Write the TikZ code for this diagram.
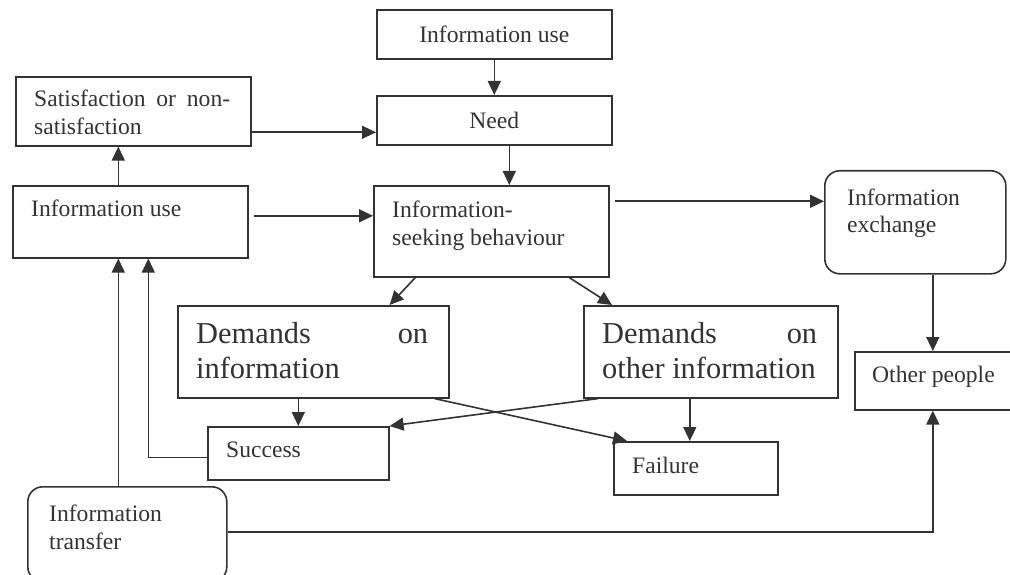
\documentclass[tikz,border=0pt]{standalone}
\usepackage{fontspec}
\setmainfont{Liberation Serif}
\usetikzlibrary{arrows.meta, calc}
\definecolor{ink}{HTML}{333333}

\begin{document}
\begin{tikzpicture}[
    x=1pt, y=-1pt,
    every node/.style={text=ink},
    arrow/.style={-{Triangle[length=14pt,width=13pt]}, line width=1.6pt, draw=ink},
    box/.style={
        rectangle,
        draw=ink,
        line width=1.6pt,
        anchor=north west,
        inner sep=0pt,
        font=\fontsize{23.6}{28}\selectfont
    },
    rbox/.style={box, rounded corners=15pt},
    txt/.style={font=\fontsize{23.6}{28}\selectfont, align=left, inner sep=0pt, anchor=base west},
    bigtxt/.style={txt, font=\fontsize{30.4}{35}\selectfont}
]
\useasboundingbox (0,0) rectangle (1010,575);

% boxes
\node[box, minimum width=235pt, minimum height=49pt] (use1) at (376,9) {Information use};
\node[box, minimum width=235pt, minimum height=49pt] (need) at (376,95) {Need};
\node[box, minimum width=235pt, minimum height=69pt] (satis) at (15,76) {};
\node[box, minimum width=235pt, minimum height=72pt] (use2) at (12,185) {};
\node[box, minimum width=235pt, minimum height=91pt] (isb) at (373,185) {};
\node[rbox, minimum width=181pt, minimum height=103pt] (exch) at (824,170) {};
\node[box, minimum width=271pt, minimum height=92pt] (dinfo) at (177,305) {};
\node[box, minimum width=254pt, minimum height=92pt] (dother) at (583,305) {};
\node[box, minimum width=156pt, minimum height=58pt] (other) at (854,351) {};
\node[box, minimum width=181pt, minimum height=53pt] (success) at (207,426) {};
\node[box, minimum width=164pt, minimum height=53pt] (failure) at (613,441) {};
\node[rbox, minimum width=199pt, minimum height=95pt] (transfer) at (27,486) {};

% texts (base = last line)
\node[txt] (satis-t) at ([xshift=19pt, yshift=-59pt]satis.north west) {\makebox[196pt][l]{Satisfaction\hfill or\hfill non-}\\satisfaction};
\node[txt] (use2-t) at ([xshift=19pt, yshift=-32pt]use2.north west) {Information use};
\node[txt] (isb-t) at ([xshift=19pt, yshift=-60pt]isb.north west) {Information-\\seeking behaviour};
\node[txt] (exch-t) at ([xshift=23pt, yshift=-63pt]exch.north west) {Information\\exchange};
\node[bigtxt] (dinfo-t) at ([xshift=19pt, yshift=-73pt]dinfo.north west) {\makebox[232pt][l]{Demands\hfill on}\\information};
\node[bigtxt] (dother-t) at ([xshift=19pt, yshift=-73pt]dother.north west) {\makebox[215pt][l]{Demands\hfill on}\\other information};
\node[txt] (other-t) at ([xshift=18pt, yshift=-31pt]other.north west) {Other people};
\node[txt] (success-t) at ([xshift=19pt, yshift=-31pt]success.north west) {Success};
\node[txt] (failure-t) at ([xshift=19pt, yshift=-32pt]failure.north west) {Failure};
\node[txt] (transfer-t) at ([xshift=22pt, yshift=-63pt]transfer.north west) {Information\\transfer};

\coordinate (upA) at ([xshift=-12pt]use2.south);
\coordinate (upB) at ([xshift=18pt]use2.south);
\coordinate (fdrop) at ([xshift=-6pt]failure.north);

% connectors
\draw[arrow] (use1) -- (need);
\draw[arrow] ([xshift=15pt]need.south) -- ([xshift=15pt]need.south |- isb.north);
\draw[arrow] ([yshift=-21pt]satis.east) -- ([yshift=-21pt]satis.east -| need.west);
\draw[arrow] ([xshift=-12pt]use2.north) -- ([xshift=-12pt]use2.north |- satis.south);
\draw[arrow] ([xshift=5pt,yshift=6pt]use2.east) -- ([yshift=6pt]use2.east -| isb.west);
\draw[arrow] ([xshift=5pt,yshift=30pt]isb.east) -- ([yshift=30pt]isb.east -| exch.west);
\draw[arrow] (other.north |- exch.south) -- (other.north);
\draw[arrow] ([yshift=-46pt]transfer.north east) -| (other.south);
\draw[arrow] (upA |- transfer.north) -- (upA);
\draw[arrow] ([yshift=-4pt]success.west) -| (upB);
\draw[arrow] ([xshift=-76pt]isb.south) -- ([xshift=-60pt]dinfo.north east);
\draw[arrow] ([xshift=78pt]isb.south) -- ([xshift=29pt]dother.north west);
\draw[arrow] (success.north |- dinfo.south) -- (success.north);
\draw[arrow] (fdrop |- dother.south) -- (fdrop);
\draw[arrow] ([xshift=-15pt]dinfo.south east) -- ([xshift=14pt]failure.north west);
\draw[arrow] ([xshift=15pt]dother.south west) -- (success.north east);

\end{tikzpicture}
\end{document}
